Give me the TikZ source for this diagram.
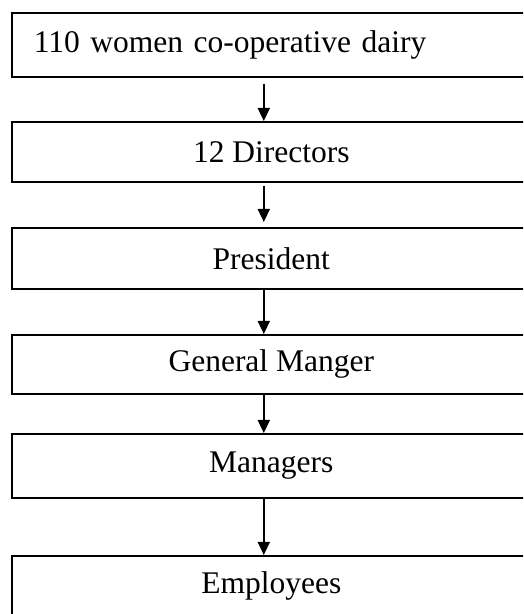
\documentclass[tikz,border=0pt]{standalone}
\usepackage{fontspec}
\setmainfont{Liberation Serif}
\usetikzlibrary{arrows.meta}
\begin{document}
\begin{tikzpicture}[x=1pt,y=1pt,
  box/.style={draw=black, line width=1.6pt, minimum width=519pt, inner sep=0pt, anchor=north west,
    font=\fontsize{31.5}{36}\selectfont, text=black},
  arr/.style={draw=black, line width=1.6pt, -{Triangle[width=12pt,length=13pt]}}]
\useasboundingbox (0,0) rectangle (523,614);
\clip (0,0) rectangle (523,614);
\fill[white] (0,0) rectangle (523,614);
\node[box, minimum height=64pt, text width=475pt, align=left, inner xsep=22pt] (b1) at (11,602) {110 women co-operative dairy};
\node[box, minimum height=60pt] (b2) at (11,493) {12 Directors};
\node[box, minimum height=61pt] (b3) at (11,387) {President};
\node[box, minimum height=59pt] (b4) at (11,280) {General Manger};
\node[box, minimum height=64pt] (b5) at (11,181) {Managers};
\node[box, minimum height=60pt] (b6) at (11,59) {Employees};
\draw[arr, shorten <=6pt] ([xshift=-7.5pt]b1.south) -- ([xshift=-7.5pt]b2.north);
\draw[arr, shorten <=3pt, shorten >=5pt] ([xshift=-7.5pt]b2.south) -- ([xshift=-7.5pt]b3.north);
\draw[arr] ([xshift=-7.5pt]b3.south) -- ([xshift=-7.5pt]b4.north);
\draw[arr] ([xshift=-7.5pt]b4.south) -- ([xshift=-7.5pt]b5.north);
\draw[arr] ([xshift=-7.5pt]b5.south) -- ([xshift=-7.5pt]b6.north);
\end{tikzpicture}
\end{document}
